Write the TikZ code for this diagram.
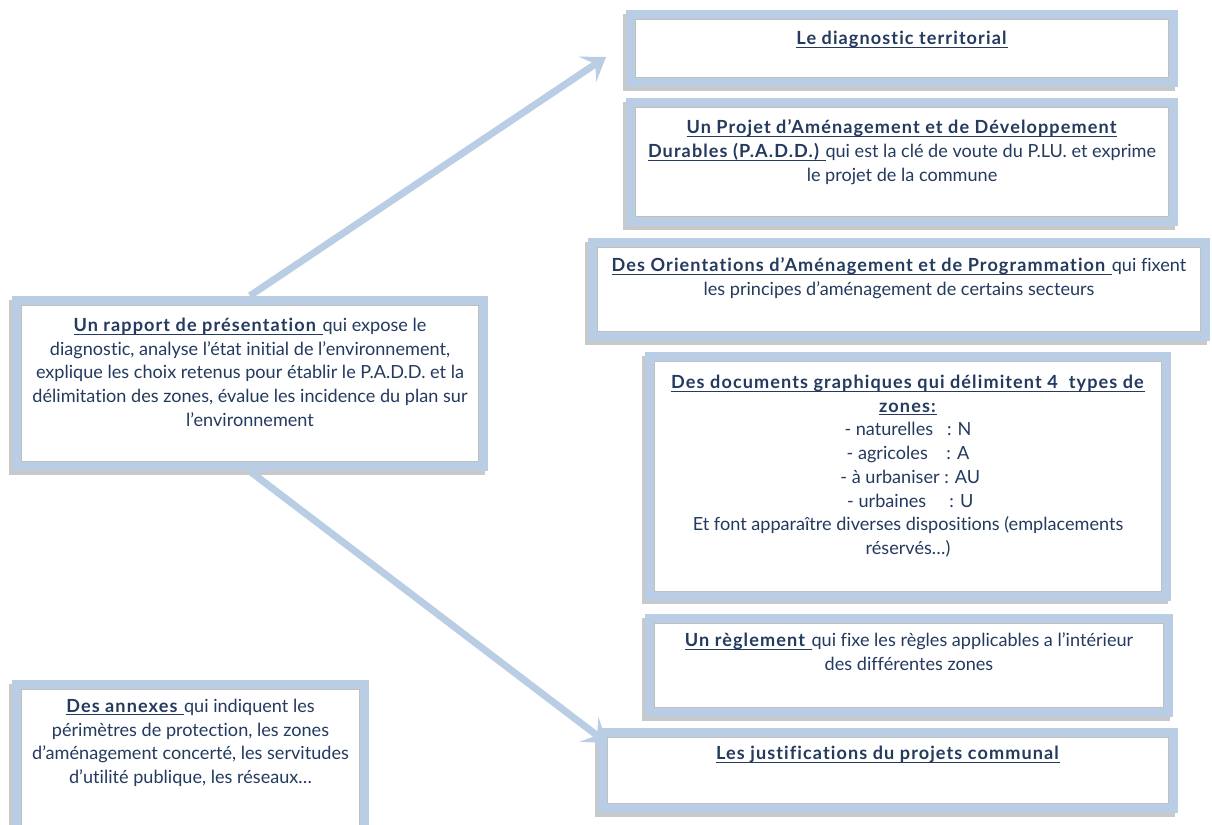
\documentclass[tikz,border=0pt]{standalone}
\usepackage{fontspec}
\setmainfont{Lato}[Ligatures={NoCommon}, BoldFeatures={LetterSpace=6}]
\usepackage{xcolor}
\usetikzlibrary{arrows.meta}
\usetikzlibrary{shadows}
\usetikzlibrary{positioning}

\definecolor{bleucadre}{RGB}{185,205,228}
\definecolor{encre}{RGB}{36,58,94}

\newcommand{\titre}[1]{\underline{\raisebox{0pt}[\height][0pt]{\textbf{#1}}}}

\begin{document}
\begin{tikzpicture}[x=0.02cm, y=-0.02cm,
    boite/.style={fill=bleucadre, inner sep=0pt, drop shadow={shadow xshift=-1.5pt, shadow yshift=-2pt, opacity=0.3, fill=black!70}},
    fond/.style={fill=white, draw=black!25, line width=0.8pt},
    texte/.style={anchor=north, align=center, inner sep=0pt, text=encre, font=\fontsize{10.3}{13.5}\selectfont},
    fleche/.style={draw=bleucadre, line width=4pt, -{Stealth[length=0.45cm, width=0.62cm, inset=0.2cm]}}]
    \useasboundingbox (0,0) rectangle (1212,824);

    % les cadres
    \node[boite, minimum width=11.04cm, minimum height=1.54cm] (diag) at (902,48.5) {};
    \node[boite, minimum width=11.04cm, minimum height=2.56cm] (padd) at (902,162) {};
    \node[boite, minimum width=12.44cm, minimum height=2.06cm] (oap) at (899,289.5) {};
    \node[boite, minimum width=10.52cm, minimum height=4.98cm] (docs) at (908,476.5) {};
    \node[boite, minimum width=10.56cm, minimum height=2.06cm] (regl) at (909,665.5) {};
    \node[boite, minimum width=11.6cm, minimum height=1.7cm] (just) at (888,770.5) {};
    \node[boite, minimum width=9.52cm, minimum height=3.5cm] (rapp) at (250,383.5) {};
    \node[boite, minimum width=7.14cm, minimum height=3.4cm] (annx) at (190.5,765) {};
    \foreach \b in {diag,padd,oap,docs,regl,just,rapp,annx}
        \path[fond] ([shift={(10,10)}]\b.north west) rectangle ([shift={(-10,-10)}]\b.south east);

    % les textes
    \node[texte] (diagt) at ([yshift=-0.42cm]diag.north) {\titre{Le diagnostic territorial}};
    \node[texte] (paddt) at ([yshift=-0.44cm]padd.north) {\titre{Un Projet d’Aménagement et de Développement}\\
        \titre{Durables (P.A.D.D.)\ }qui est la clé de voute du P.LU. et exprime\\
        le projet de la commune};
    \node[texte] (oapt) at ([yshift=-0.40cm]oap.north) {\titre{Des Orientations d’Aménagement et de Programmation\ }qui fixent\\
        les principes d’aménagement de certains secteurs};
    \node[texte] (docst) at ([yshift=-0.46cm]docs.north) {\titre{Des documents graphiques qui délimitent 4\ \ types de}\\
        \titre{zones:}\\
        - naturelles\ \ \ : N\\
        - agricoles\ \ \ \ : A\\
        \ - à urbaniser : AU\\
        \ - urbaines\ \ \ \ \ : U\\
        Et font apparaître diverses dispositions (emplacements\\
        réservés…)};
    \node[texte] (reglt) at ([yshift=-0.38cm]regl.north) {\titre{Un règlement\ }qui fixe les règles applicables a l’intérieur\\
        des différentes zones};
    \node[texte] (justt) at ([yshift=-0.36cm]just.north) {\titre{Les justifications du projets communal}};
    \node[texte] (rappt) at ([yshift=-0.44cm]rapp.north) {\titre{Un rapport de présentation\ }qui expose le\\
        diagnostic, analyse l’état initial de l’environnement,\\
        explique les choix retenus pour établir le P.A.D.D. et la\\
        délimitation des zones, évalue les incidence du plan sur\\
        l’environnement};
    \node[texte] (annxt) at ([yshift=-0.38cm]annx.north) {\titre{Des annexes\ }qui indiquent les\\
        périmètres de protection, les zones\\
        d’aménagement concerté, les servitudes\\
        d’utilité publique, les réseaux…};

    % les fleches
    \coordinate (pointeA) at (606,57);
    \coordinate (pointeB) at (607,743);
    \draw[fleche] (rapp.north) -- (pointeA);
    \draw[fleche] (rapp.south) -- (pointeB);
\end{tikzpicture}
\end{document}
